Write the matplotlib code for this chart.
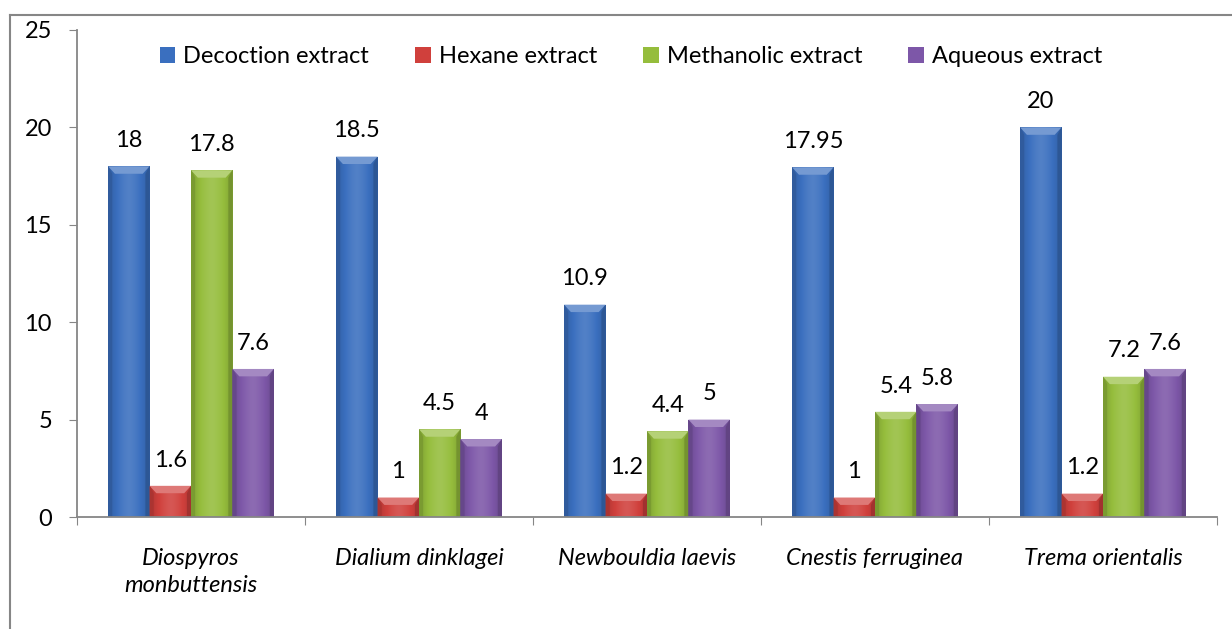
import numpy as np
import matplotlib
matplotlib.use("Agg")
import matplotlib.pyplot as plt
from matplotlib.patches import Polygon
from matplotlib.lines import Line2D
import matplotlib.colors as mcolors

categories = ["Diospyros\nmonbuttensis", "Dialium dinklagei", "Newbouldia laevis",
              "Cnestis ferruginea", "Trema orientalis"]
series_names = ["Decoction extract", "Hexane extract", "Methanolic extract", "Aqueous extract"]
decoction = [18, 18.5, 10.9, 17.95, 20]
hexane = [1.6, 1, 1.2, 1, 1.2]
methanolic = [17.8, 4.5, 4.4, 5.4, 7.2]
aqueous = [7.6, 4, 5, 5.8, 7.6]
value_labels = [["18", "18.5", "10.9", "17.95", "20"],
                ["1.6", "1", "1.2", "1", "1.2"],
                ["17.8", "4.5", "4.4", "5.4", "7.2"],
                ["7.6", "4", "5", "5.8", "7.6"]]
yticks = [0, 5, 10, 15, 20, 25]
colors = ["#3a6fbf", "#d0403c", "#95bd3c", "#7d57a8"]

plt.rcParams['font.family'] = ['Lato', 'DejaVu Sans']
FS = 17

fig = plt.figure(figsize=(12.32, 6.29), dpi=100)
ax = fig.add_axes([77/1232, 1-517/629, (1217-77)/1232, (517-30)/629])

data = [decoction, hexane, methanolic, aqueous]
n = len(series_names)
w = 1/5.5
x = np.arange(len(categories))

def shade(c, f):
    r = np.array(mcolors.to_rgb(c))
    if f >= 1:
        return tuple(r + (1-r)*(f-1))
    return tuple(r*f)

bevx = 0.03
bevy = 0.38
for i, (vals, c) in enumerate(zip(data, colors)):
    bars = ax.bar(x + (i-1.5)*w, vals, w, color=c, label=series_names[i], zorder=2)
    for b, lab in zip(bars, value_labels[i]):
        x0, y0 = b.get_x(), b.get_y()
        bw, bh = b.get_width(), b.get_height()
        prof = np.linspace(-1, 1, 60)
        fac = 1.12 - 0.28*np.abs(prof)**1.5
        img = np.array([[shade(c, f) for f in fac]])
        im = ax.imshow(img, extent=(x0, x0+bw, y0, y0+bh), aspect='auto', zorder=2.1,
                       interpolation='bicubic')
        im.set_clip_path(b)
        by = min(bevy, bh*0.45)
        ax.add_patch(Polygon([(x0, y0+bh), (x0+bw, y0+bh), (x0+bw-bevx, y0+bh-by), (x0+bevx, y0+bh-by)],
                             closed=True, facecolor=shade(c, 1.3), edgecolor='none', zorder=2.2))
        ax.add_patch(Polygon([(x0, y0), (x0+bevx*0.6, y0), (x0+bevx*0.6, y0+bh-by), (x0, y0+bh)],
                             closed=True, facecolor=shade(c, 0.82), edgecolor='none', zorder=2.2))
        ax.add_patch(Polygon([(x0+bw, y0), (x0+bw-bevx*0.6, y0), (x0+bw-bevx*0.6, y0+bh-by), (x0+bw, y0+bh)],
                             closed=True, facecolor=shade(c, 0.78), edgecolor='none', zorder=2.2))
        ax.annotate(lab, (x0+bw/2, y0+bh), xytext=(0, 11), textcoords='offset points',
                    ha='center', va='bottom', fontsize=FS, color='black')

ax.set_xlim(-0.5, len(categories)-0.5)
ax.set_ylim(0, 25)
ax.set_yticks(yticks)
ax.set_yticklabels([str(t) for t in yticks], fontsize=FS)
ax.set_xticks(np.arange(len(categories)+1)-0.5)
ax.set_xticklabels([])
ax.set_xticks(x, minor=True)
ax.set_xticklabels(categories, minor=True, fontsize=FS, style='italic', linespacing=1.4)
ax.tick_params(axis='x', which='minor', length=0, pad=22)
ax.tick_params(axis='x', which='major', length=6, color='#868686', direction='out')
ax.tick_params(axis='y', length=6, color='#868686', direction='out', pad=12)
for s in ['top', 'right']:
    ax.spines[s].set_visible(False)
for s in ['left', 'bottom']:
    ax.spines[s].set_color('#868686')
    ax.spines[s].set_linewidth(1.3)

leg = ax.legend(loc='upper center', bbox_to_anchor=(0.486, 1.01), ncol=4, frameon=False,
                fontsize=FS, handlelength=0.65, handleheight=0.65, handletextpad=0.35,
                columnspacing=1.95)

fig.add_artist(Line2D([10/1232, 10/1232], [0, 1-15/629], transform=fig.transFigure,
                      color='#868686', linewidth=1.5))
fig.add_artist(Line2D([10/1232, 1], [1-15/629, 1-15/629], transform=fig.transFigure,
                      color='#868686', linewidth=1.5))

fig.savefig("out.png", dpi=100)
